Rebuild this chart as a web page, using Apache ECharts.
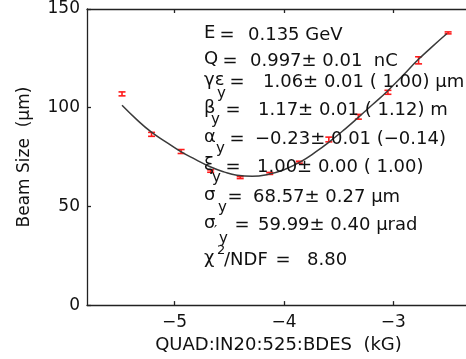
<!DOCTYPE html>
<html>
<head>
<meta charset="utf-8">
<script src="https://cdn.jsdelivr.net/npm/echarts@6/dist/echarts.min.js"></script>
<style>
html,body{margin:0;padding:0;background:#fff;overflow:hidden;}
#chart{width:480px;height:359px;}
</style>
</head>
<body>
<div id="chart"></div>
<script>
// ---- data ----
var quadBdes   = [-5.48, -5.21, -4.94, -4.67, -4.40, -4.13, -3.86, -3.59, -3.32, -3.05, -2.77, -2.50];
var beamSize   = [107.0, 86.5, 77.8, 67.9, 64.6, 66.7, 72.4, 83.9, 95.4, 107.8, 124.0, 137.9];
var beamErr    = [1.0, 1.0, 1.0, 0.6, 0.5, 0.5, 0.5, 1.2, 1.2, 1.0, 1.8, 0.5];
var fitX       = [-5.48, -5.35, -5.22, -5.08, -4.95, -4.81, -4.68, -4.55, -4.43, -4.29, -4.15, -4.00, -3.85, -3.71, -3.57, -3.44, -3.32, -3.19, -3.06, -2.92, -2.78, -2.65, -2.51];
var fitY       = [101.2, 94.2, 88.0, 82.7, 78.0, 73.8, 70.2, 67.5, 65.8, 65.3, 66.2, 68.6, 72.6, 77.6, 83.4, 89.3, 95.1, 101.6, 108.1, 115.9, 124.0, 130.7, 137.6];
var xTicks     = [-5, -4, -3];
var yTicks     = [0, 50, 100, 150];
var xTitle     = 'QUAD:IN20:525:BDES  (kG)';
var yTitle     = 'Beam Size  (\u00b5m)';
var fitSymbols = ['E', 'Q', '\u03b3\u03b5', '\u03b2', '\u03b1', '\u03be', '\u03c3', '\u03c3', '\u03c7'];
var fitSubs    = ['', '', 'y', 'y', 'y', 'y', 'y', 'y', ''];
var fitValues  = ['0.135 GeV', '0.997\u00b1 0.01  nC', '1.06\u00b1 0.01 ( 1.00) \u00b5m', '1.17\u00b1 0.01 ( 1.12) m',
                  '\u22120.23\u00b1 0.01 (\u22120.14)', '1.00\u00b1 0.00 ( 1.00)', '68.57\u00b1 0.27 \u00b5m',
                  '59.99\u00b1 0.40 \u00b5rad', '8.80'];

// ---- layout for annotation (pixels) ----
var rowY   = [35, 61, 82, 110, 139, 167, 197, 225, 260];
var eqX    = [227, 230, 237, 233, 237, 233, 235, 242, 283];
var valX   = [248, 250, 263, 258, 255, 257, 253, 258, 307];
var subPos = [null, null, [217, 95], [211, 121], [216, 150], [212, 179], [218, 209], [219, 240], null];

var FONT = 'DejaVu Sans';
var TXT = '#111';

var graphics = [];
for (var i = 0; i < fitSymbols.length; i++) {
  graphics.push({type:'text', left:204, top:rowY[i]-11, z:100,
    style:{text:fitSymbols[i], font:'18px "' + FONT + '"', fill:TXT}});
  if (fitSubs[i]) {
    graphics.push({type:'text', x:subPos[i][0], y:subPos[i][1]-8, z:100,
      style:{text:fitSubs[i], font:'15px "' + FONT + '"', fill:TXT}});
  }
  graphics.push({type:'text', x:eqX[i], y:rowY[i], z:100,
    style:{text:'=', font:'18px "' + FONT + '"', fill:TXT, align:'center', verticalAlign:'middle'}});
  graphics.push({type:'text', x:valX[i], y:rowY[i], z:100,
    style:{text:fitValues[i], font:'18px "' + FONT + '"', fill:TXT, verticalAlign:'middle'}});
}
// prime on sigma' and superscript 2 / NDF on chi
graphics.push({type:'text', x:214, y:224, z:100, style:{text:'\u2032', font:'14px "' + FONT + '"', fill:TXT}});
graphics.push({type:'text', x:217, y:244, z:100, style:{text:'2', font:'13px "' + FONT + '"', fill:TXT}});
graphics.push({type:'text', x:224, y:260, z:100, style:{text:'/NDF', font:'18px "' + FONT + '"', fill:TXT, verticalAlign:'middle'}});

var pts = quadBdes.map(function(x, k){ return [x, beamSize[k], beamErr[k]]; });
var fit = fitX.map(function(x, k){ return [x, fitY[k]]; });

function minusFmt(v){ return String(v).replace('-', '\u2212'); }

var chart = echarts.init(document.getElementById('chart'), null, {renderer:'canvas'});
chart.setOption({
  animation:false,
  backgroundColor:'#fff',
  grid:{left:87, top:9, right:10, bottom:53, containLabel:false},
  xAxis:[{
    type:'value', min:-5.8, max:-2.3, position:'bottom',
    name:xTitle, nameLocation:'middle', nameGap:26,
    nameTextStyle:{fontFamily:FONT, fontSize:18, color:TXT},
    axisLine:{show:true, onZero:false, lineStyle:{color:'#222', width:1.3}},
    axisTick:{show:true, inside:true, length:4, customValues:xTicks, lineStyle:{color:'#222', width:1.3}},
    axisLabel:{customValues:xTicks, formatter:minusFmt, fontFamily:FONT, fontSize:17, color:TXT, margin:9},
    splitLine:{show:false}
  },{
    type:'value', min:-5.8, max:-2.3, position:'top',
    axisLine:{show:true, onZero:false, lineStyle:{color:'#222', width:1.3}},
    axisTick:{show:true, inside:true, length:4, customValues:xTicks, lineStyle:{color:'#222', width:1.3}},
    axisLabel:{show:false}, splitLine:{show:false}
  }],
  yAxis:[{
    type:'value', min:0, max:150, interval:50,
    name:yTitle, nameLocation:'middle', nameGap:54,
    nameTextStyle:{fontFamily:FONT, fontSize:17, color:TXT},
    axisLine:{show:true, onZero:false, lineStyle:{color:'#222', width:1.3}},
    axisTick:{show:true, inside:true, length:4, lineStyle:{color:'#222', width:1.3}},
    axisLabel:{fontFamily:FONT, fontSize:17, color:TXT, margin:7},
    splitLine:{show:false}
  }],
  graphic:graphics,
  series:[{
    type:'custom', xAxisIndex:0, yAxisIndex:0, z:3,
    data:pts,
    renderItem:function(params, api){
      var x = api.value(0), y = api.value(1), e = api.value(2);
      var hi = api.coord([x, y + e]), lo = api.coord([x, y - e]);
      var w = 3.5;
      var st = {stroke:'#ff1a1a', lineWidth:1.6};
      return {type:'group', children:[
        {type:'line', shape:{x1:hi[0], y1:hi[1], x2:lo[0], y2:lo[1]}, style:st},
        {type:'line', shape:{x1:hi[0]-w, y1:hi[1], x2:hi[0]+w, y2:hi[1]}, style:st},
        {type:'line', shape:{x1:lo[0]-w, y1:lo[1], x2:lo[0]+w, y2:lo[1]}, style:st}
      ]};
    }
  },{
    type:'line', xAxisIndex:0, yAxisIndex:0, z:4,
    data:fit, smooth:true, showSymbol:false, symbol:'none',
    lineStyle:{color:'#3a3a3a', width:1.5}
  }]
});
</script>
</body>
</html>
